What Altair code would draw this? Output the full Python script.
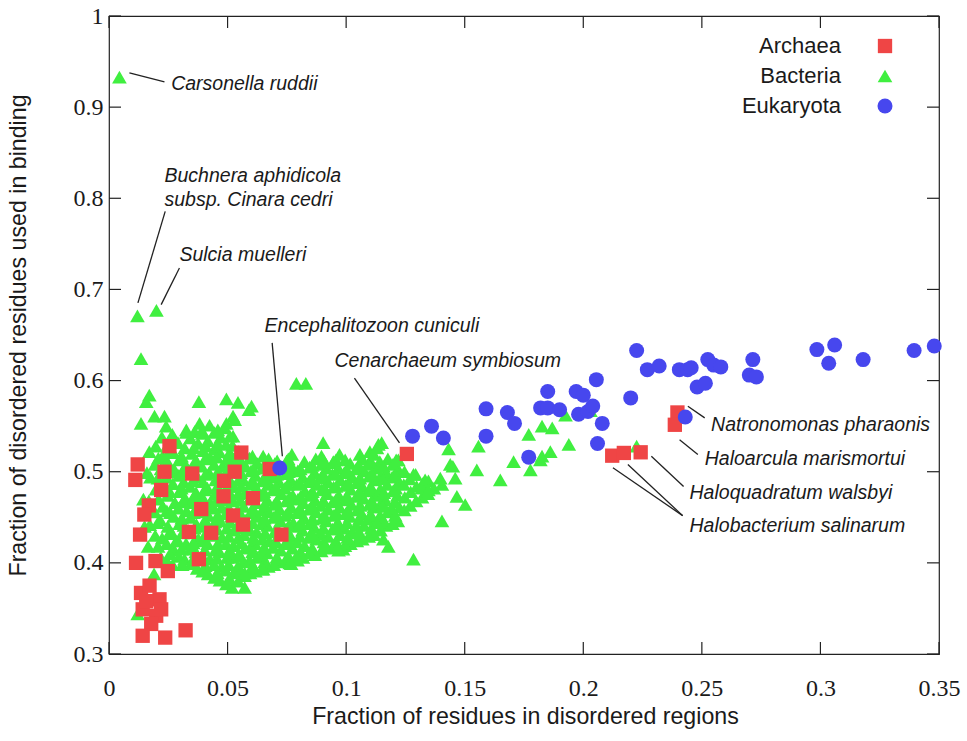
import altair as alt
import pandas as pd

# ---------------- axis ticks ----------------
x_ticks = [0, 0.05, 0.1, 0.15, 0.2, 0.25, 0.3, 0.35]
y_ticks = [0.3, 0.4, 0.5, 0.6, 0.7, 0.8, 0.9, 1.0]

# ---------------- Archaea (red squares) ----------------
archaea_x = [0.1256, 0.2397, 0.2386, 0.2242, 0.2122, 0.2171, 0.0678,
             0.0255, 0.0121, 0.0111, 0.0234, 0.0351, 0.0220, 0.0168, 0.0149,
             0.0131, 0.0337, 0.0431, 0.0389, 0.0485, 0.0483, 0.0530, 0.0558,
             0.0607, 0.0523, 0.0565, 0.0727,
             0.0114, 0.0196, 0.0248, 0.0379, 0.0135, 0.0171, 0.0213, 0.0142,
             0.0199, 0.0178, 0.0142, 0.0237, 0.0323, 0.0157, 0.0220]
archaea_y = [0.5195, 0.5650, 0.5515, 0.5213, 0.5176, 0.5206, 0.5030,
             0.5280, 0.5080, 0.4910, 0.5000, 0.4980, 0.4800, 0.4630, 0.4530,
             0.4310, 0.4340, 0.4330, 0.4590, 0.4900, 0.4730, 0.5000, 0.5210,
             0.4710, 0.4520, 0.4420, 0.4310,
             0.4000, 0.4020, 0.3910, 0.4040, 0.3670, 0.3750, 0.3600, 0.3490,
             0.3420, 0.3330, 0.3200, 0.3180, 0.3260, 0.3580, 0.3490]

# ---------------- Eukaryota (blue circles) ----------------
eukaryota_x = [0.0720, 0.1280, 0.1360, 0.1410, 0.1590, 0.1590, 0.1680, 0.1710,
               0.1770, 0.1820, 0.1850, 0.1850, 0.1900, 0.1970, 0.1980, 0.2000,
               0.2020, 0.2040, 0.2055, 0.2080, 0.2060, 0.2200, 0.2225, 0.2270,
               0.2320, 0.2405, 0.2440, 0.2455, 0.2480, 0.2515, 0.2525, 0.2550,
               0.2580, 0.2715, 0.2700, 0.2730, 0.2985, 0.3060, 0.3035, 0.3180,
               0.3395, 0.3480, 0.2430]
eukaryota_y = [0.5040, 0.5390, 0.5500, 0.5370, 0.5690, 0.5390, 0.5650, 0.5530,
               0.5160, 0.5700, 0.5700, 0.5880, 0.5680, 0.5880, 0.5630, 0.5840,
               0.5660, 0.5720, 0.6010, 0.5530, 0.5310, 0.5810, 0.6330, 0.6120,
               0.6160, 0.6120, 0.6120, 0.6140, 0.5930, 0.5970, 0.6230, 0.6170,
               0.6150, 0.6230, 0.6060, 0.6040, 0.6340, 0.6390, 0.6190, 0.6230,
               0.6330, 0.6380, 0.5600]

# ---------------- Bacteria (green triangles) ----------------
bacteria_outliers = [(0.0044, 0.933), (0.0120, 0.671), (0.0200, 0.677),
                     (0.0135, 0.624), (0.0790, 0.597), (0.0830, 0.597)]

bacteria_upper = [(0.0170, 0.584), (0.0157, 0.577), (0.0192, 0.561), (0.0234, 0.561),
                  (0.0135, 0.553), (0.0241, 0.550), (0.0379, 0.577), (0.0495, 0.580),
                  (0.0544, 0.576), (0.0523, 0.561), (0.0488, 0.548), (0.0326, 0.546),
                  (0.0361, 0.544), (0.0392, 0.545), (0.0523, 0.539), (0.0279, 0.532),
                  (0.0601, 0.572), (0.0459, 0.546), (0.0382, 0.553), (0.0495, 0.553),
                  (0.0590, 0.568), (0.0530, 0.557), (0.0510, 0.539)]

bacteria_right = [(0.0903, 0.532), (0.0896, 0.517), (0.0945, 0.510), (0.0650, 0.517),
                  (0.0770, 0.506), (0.1058, 0.519), (0.1100, 0.522), (0.1136, 0.530),
                  (0.1150, 0.532), (0.1130, 0.526), (0.1220, 0.513), (0.1284, 0.497),
                  (0.1333, 0.491), (0.1397, 0.493), (0.1439, 0.508), (0.1432, 0.525),
                  (0.1460, 0.493), (0.1319, 0.482), (0.1347, 0.480), (0.1404, 0.486),
                  (0.1467, 0.473), (0.1502, 0.464), (0.1551, 0.502), (0.1558, 0.528),
                  (0.1650, 0.491), (0.1706, 0.511), (0.1770, 0.541), (0.1777, 0.502),
                  (0.1819, 0.513), (0.1404, 0.446), (0.1157, 0.426), (0.1178, 0.418),
                  (0.1284, 0.404), (0.1925, 0.562), (0.1826, 0.550), (0.1869, 0.548),
                  (0.1939, 0.530), (0.1861, 0.522), (0.1826, 0.517), (0.2225, 0.528),
                  (0.2030, 0.567), (0.1211, 0.513), (0.1450, 0.506)]

bacteria_low = [(0.0762, 0.400), (0.0572, 0.373), (0.0572, 0.389), (0.0650, 0.393),
                (0.0987, 0.415), (0.1050, 0.433), (0.1130, 0.444), (0.0190, 0.388),
                (0.0121, 0.344), (0.0283, 0.424), (0.0160, 0.499), (0.0909, 0.418),
                (0.0790, 0.407), (0.0145, 0.470), (0.0150, 0.440), (0.0964, 0.417)]

bacteria_core_a = [
    (0.0165, 0.418), (0.0172, 0.442), (0.0168, 0.468), (0.0175, 0.494), (0.0170, 0.522),
    (0.0218, 0.406), (0.0224, 0.427), (0.0216, 0.447), (0.0227, 0.462), (0.0221, 0.483),
    (0.0219, 0.503), (0.0226, 0.517), (0.0223, 0.538),
    (0.0268, 0.398), (0.0275, 0.414), (0.0266, 0.432), (0.0273, 0.451), (0.0278, 0.466),
    (0.0269, 0.487), (0.0276, 0.502), (0.0271, 0.521), (0.0267, 0.541),
    (0.0318, 0.404), (0.0325, 0.421), (0.0316, 0.441), (0.0327, 0.457), (0.0321, 0.471),
    (0.0315, 0.489), (0.0324, 0.507), (0.0319, 0.526), (0.0326, 0.543),
    (0.0372, 0.394), (0.0366, 0.412), (0.0377, 0.426), (0.0369, 0.442), (0.0375, 0.461),
    (0.0367, 0.477), (0.0374, 0.494), (0.0368, 0.512), (0.0376, 0.531),
    (0.0418, 0.388), (0.0425, 0.404), (0.0416, 0.421), (0.0423, 0.437), (0.0419, 0.452),
    (0.0427, 0.466), (0.0415, 0.482), (0.0422, 0.499), (0.0426, 0.516), (0.0417, 0.534),
    (0.0424, 0.551),
    (0.0468, 0.381), (0.0474, 0.396), (0.0466, 0.412), (0.0477, 0.428), (0.0469, 0.446),
    (0.0475, 0.461), (0.0467, 0.476), (0.0473, 0.491), (0.0478, 0.506), (0.0465, 0.522),
    (0.0471, 0.538),
    (0.0519, 0.373), (0.0526, 0.389), (0.0517, 0.406), (0.0524, 0.419), (0.0528, 0.436),
    (0.0516, 0.451), (0.0522, 0.468), (0.0527, 0.484), (0.0518, 0.501), (0.0525, 0.514),
    (0.0521, 0.529),
    (0.0572, 0.386), (0.0566, 0.401), (0.0575, 0.416), (0.0569, 0.431), (0.0577, 0.447),
    (0.0568, 0.462), (0.0574, 0.477), (0.0567, 0.491), (0.0576, 0.506), (0.0571, 0.521),
    (0.0618, 0.391), (0.0625, 0.406), (0.0616, 0.421), (0.0623, 0.434), (0.0627, 0.451),
    (0.0619, 0.466), (0.0624, 0.481), (0.0617, 0.496), (0.0626, 0.509),
    (0.0672, 0.396), (0.0666, 0.411), (0.0675, 0.424), (0.0668, 0.441), (0.0674, 0.456),
    (0.0667, 0.469), (0.0677, 0.486), (0.0669, 0.499), (0.0673, 0.514),
    (0.0718, 0.401), (0.0725, 0.414), (0.0716, 0.431), (0.0723, 0.446), (0.0719, 0.459),
    (0.0726, 0.476), (0.0717, 0.489), (0.0724, 0.506),
    (0.0768, 0.399), (0.0774, 0.416), (0.0766, 0.429), (0.0777, 0.444), (0.0769, 0.461),
    (0.0775, 0.474), (0.0767, 0.491), (0.0773, 0.504), (0.0771, 0.519),
    (0.0818, 0.406), (0.0825, 0.419), (0.0816, 0.436), (0.0823, 0.449), (0.0819, 0.466),
    (0.0826, 0.479), (0.0817, 0.494), (0.0824, 0.511),
    (0.0868, 0.409), (0.0875, 0.426), (0.0866, 0.439), (0.0873, 0.456), (0.0869, 0.469),
    (0.0876, 0.486), (0.0867, 0.499), (0.0872, 0.514),
    (0.0918, 0.416), (0.0924, 0.429), (0.0916, 0.446), (0.0925, 0.459), (0.0919, 0.476),
    (0.0923, 0.489), (0.0917, 0.504),
    (0.0968, 0.414), (0.0975, 0.431), (0.0966, 0.444), (0.0973, 0.461), (0.0969, 0.474),
    (0.0976, 0.491), (0.0967, 0.504), (0.0972, 0.519),
    (0.1018, 0.421), (0.1025, 0.434), (0.1016, 0.451), (0.1023, 0.464), (0.1019, 0.481),
    (0.1026, 0.494), (0.1017, 0.509),
    (0.1068, 0.426), (0.1075, 0.441), (0.1066, 0.454), (0.1073, 0.471), (0.1069, 0.484),
    (0.1076, 0.501), (0.1067, 0.514),
    (0.1118, 0.431), (0.1125, 0.444), (0.1116, 0.461), (0.1123, 0.474), (0.1119, 0.491),
    (0.1126, 0.504), (0.1117, 0.519),
    (0.1168, 0.441), (0.1175, 0.456), (0.1166, 0.469), (0.1173, 0.486), (0.1169, 0.499),
    (0.1176, 0.514),
    (0.1218, 0.446), (0.1225, 0.461), (0.1216, 0.474), (0.1223, 0.489), (0.1219, 0.503),
]

bacteria_core_b = [
    (0.0195, 0.430), (0.0193, 0.456), (0.0198, 0.481), (0.0194, 0.508), (0.0197, 0.528),
    (0.0245, 0.402), (0.0243, 0.421), (0.0248, 0.440), (0.0244, 0.457), (0.0247, 0.474),
    (0.0242, 0.494), (0.0246, 0.511), (0.0249, 0.530),
    (0.0295, 0.407), (0.0292, 0.424), (0.0297, 0.443), (0.0293, 0.460), (0.0298, 0.478),
    (0.0294, 0.496), (0.0296, 0.513), (0.0291, 0.532),
    (0.0345, 0.399), (0.0343, 0.415), (0.0348, 0.433), (0.0344, 0.450), (0.0347, 0.466),
    (0.0342, 0.484), (0.0346, 0.502), (0.0349, 0.520), (0.0343, 0.537),
    (0.0395, 0.391), (0.0392, 0.408), (0.0397, 0.424), (0.0393, 0.440), (0.0398, 0.456),
    (0.0394, 0.472), (0.0396, 0.489), (0.0391, 0.506), (0.0397, 0.523), (0.0393, 0.542),
    (0.0445, 0.384), (0.0443, 0.398), (0.0448, 0.414), (0.0444, 0.430), (0.0447, 0.445),
    (0.0442, 0.460), (0.0446, 0.475), (0.0449, 0.491), (0.0443, 0.508), (0.0447, 0.525),
    (0.0444, 0.543),
    (0.0495, 0.377), (0.0493, 0.392), (0.0498, 0.406), (0.0494, 0.421), (0.0497, 0.438),
    (0.0492, 0.454), (0.0496, 0.469), (0.0499, 0.484), (0.0493, 0.499), (0.0497, 0.514),
    (0.0494, 0.530),
    (0.0545, 0.380), (0.0543, 0.396), (0.0548, 0.410), (0.0544, 0.427), (0.0547, 0.443),
    (0.0542, 0.458), (0.0546, 0.476), (0.0549, 0.492), (0.0543, 0.508), (0.0547, 0.522),
    (0.0595, 0.389), (0.0593, 0.403), (0.0598, 0.418), (0.0594, 0.436), (0.0597, 0.455),
    (0.0592, 0.470), (0.0596, 0.486), (0.0599, 0.501), (0.0593, 0.515),
    (0.0645, 0.393), (0.0643, 0.409), (0.0648, 0.426), (0.0644, 0.443), (0.0647, 0.458),
    (0.0642, 0.474), (0.0646, 0.490), (0.0649, 0.504),
    (0.0695, 0.398), (0.0693, 0.417), (0.0698, 0.434), (0.0694, 0.450), (0.0697, 0.464),
    (0.0692, 0.480), (0.0696, 0.494), (0.0699, 0.509),
    (0.0745, 0.403), (0.0743, 0.421), (0.0748, 0.437), (0.0744, 0.452), (0.0747, 0.468),
    (0.0742, 0.482), (0.0746, 0.498), (0.0749, 0.512),
    (0.0795, 0.403), (0.0793, 0.423), (0.0798, 0.440), (0.0794, 0.455), (0.0797, 0.470),
    (0.0792, 0.486), (0.0796, 0.501),
    (0.0845, 0.411), (0.0843, 0.428), (0.0848, 0.443), (0.0844, 0.459), (0.0847, 0.474),
    (0.0842, 0.489), (0.0846, 0.505),
    (0.0895, 0.413), (0.0893, 0.432), (0.0898, 0.449), (0.0894, 0.463), (0.0897, 0.480),
    (0.0892, 0.493), (0.0896, 0.508),
    (0.0945, 0.419), (0.0943, 0.437), (0.0948, 0.452), (0.0944, 0.467), (0.0947, 0.483),
    (0.0942, 0.497), (0.0946, 0.511),
    (0.0995, 0.419), (0.0993, 0.438), (0.0998, 0.454), (0.0994, 0.469), (0.0997, 0.485),
    (0.0992, 0.499), (0.0996, 0.513),
    (0.1045, 0.424), (0.1043, 0.441), (0.1048, 0.458), (0.1044, 0.473), (0.1047, 0.488),
    (0.1042, 0.503),
    (0.1095, 0.429), (0.1093, 0.448), (0.1098, 0.464), (0.1094, 0.479), (0.1097, 0.495),
    (0.1092, 0.508),
    (0.1145, 0.436), (0.1143, 0.452), (0.1148, 0.466), (0.1144, 0.481), (0.1147, 0.496),
    (0.1142, 0.511),
    (0.1195, 0.443), (0.1193, 0.459), (0.1198, 0.479), (0.1194, 0.494), (0.1197, 0.508),
]

bacteria_core_c = [
    (0.0207, 0.418), (0.0205, 0.444), (0.0209, 0.470), (0.0206, 0.493), (0.0208, 0.515),
    (0.0257, 0.410), (0.0255, 0.433), (0.0259, 0.455), (0.0256, 0.478), (0.0258, 0.500),
    (0.0254, 0.522),
    (0.0309, 0.398), (0.0306, 0.415), (0.0310, 0.433), (0.0307, 0.449), (0.0311, 0.467),
    (0.0305, 0.482), (0.0309, 0.500), (0.0306, 0.517),
    (0.0358, 0.405), (0.0355, 0.422), (0.0360, 0.438), (0.0356, 0.455), (0.0359, 0.473),
    (0.0354, 0.490), (0.0358, 0.509), (0.0357, 0.526),
    (0.0406, 0.397), (0.0404, 0.414), (0.0408, 0.432), (0.0405, 0.447), (0.0409, 0.463),
    (0.0403, 0.480), (0.0407, 0.497), (0.0405, 0.514), (0.0408, 0.528),
    (0.0457, 0.389), (0.0455, 0.405), (0.0459, 0.421), (0.0456, 0.437), (0.0458, 0.452),
    (0.0454, 0.468), (0.0457, 0.484), (0.0459, 0.500), (0.0455, 0.516), (0.0458, 0.531),
    (0.0508, 0.383), (0.0505, 0.398), (0.0509, 0.414), (0.0506, 0.429), (0.0510, 0.445),
    (0.0504, 0.461), (0.0508, 0.477), (0.0507, 0.492), (0.0505, 0.507), (0.0509, 0.521),
    (0.0556, 0.391), (0.0554, 0.407), (0.0558, 0.422), (0.0555, 0.438), (0.0559, 0.452),
    (0.0553, 0.469), (0.0557, 0.484), (0.0556, 0.499), (0.0554, 0.513),
    (0.0607, 0.397), (0.0605, 0.412), (0.0609, 0.428), (0.0606, 0.444), (0.0608, 0.459),
    (0.0604, 0.474), (0.0607, 0.489), (0.0609, 0.503), (0.0605, 0.517),
    (0.0656, 0.401), (0.0654, 0.417), (0.0658, 0.433), (0.0655, 0.449), (0.0659, 0.463),
    (0.0653, 0.478), (0.0657, 0.493), (0.0656, 0.508),
    (0.0707, 0.406), (0.0705, 0.423), (0.0709, 0.438), (0.0706, 0.453), (0.0708, 0.468),
    (0.0704, 0.483), (0.0707, 0.497), (0.0709, 0.512),
    (0.0756, 0.408), (0.0754, 0.425), (0.0758, 0.441), (0.0755, 0.456), (0.0759, 0.471),
    (0.0753, 0.486), (0.0757, 0.500), (0.0756, 0.514),
    (0.0807, 0.412), (0.0805, 0.429), (0.0809, 0.444), (0.0806, 0.459), (0.0808, 0.473),
    (0.0804, 0.488), (0.0807, 0.503),
    (0.0857, 0.416), (0.0855, 0.433), (0.0859, 0.448), (0.0856, 0.463), (0.0858, 0.478),
    (0.0854, 0.493), (0.0857, 0.507),
    (0.0906, 0.423), (0.0904, 0.438), (0.0908, 0.452), (0.0905, 0.468), (0.0909, 0.482),
    (0.0903, 0.497), (0.0907, 0.512),
    (0.0957, 0.424), (0.0955, 0.440), (0.0959, 0.455), (0.0956, 0.469), (0.0958, 0.484),
    (0.0954, 0.498), (0.0957, 0.513),
    (0.1006, 0.428), (0.1004, 0.444), (0.1008, 0.458), (0.1005, 0.473), (0.1009, 0.488),
    (0.1003, 0.502),
    (0.1057, 0.433), (0.1055, 0.448), (0.1059, 0.463), (0.1056, 0.478), (0.1058, 0.493),
    (0.1054, 0.507),
    (0.1106, 0.438), (0.1104, 0.453), (0.1108, 0.468), (0.1105, 0.483), (0.1109, 0.498),
    (0.1103, 0.512),
    (0.1157, 0.447), (0.1155, 0.462), (0.1159, 0.477), (0.1156, 0.492), (0.1158, 0.506),
    (0.1207, 0.452), (0.1205, 0.467), (0.1209, 0.482), (0.1206, 0.497),
    (0.1245, 0.458), (0.1247, 0.472), (0.1243, 0.486), (0.1246, 0.500),
    (0.1270, 0.463), (0.1272, 0.478), (0.1268, 0.492),
    (0.1295, 0.468), (0.1297, 0.484), (0.1293, 0.497),
    (0.1320, 0.472), (0.1322, 0.487),
    (0.1345, 0.476), (0.1347, 0.490),
    (0.1370, 0.482),
]

# ---------------- legend / style lists ----------------
groups = ["Archaea", "Bacteria", "Eukaryota"]
group_colors = ["#ef4545", "#40ef40", "#4747ee"]
group_shapes = ["square", "triangle-up", "circle"]
group_sizes = [205, 225, 165]

# ---------------- annotations ----------------
ann_label = ["Carsonella ruddii", "Buchnera aphidicola", "subsp. Cinara cedri",
             "Sulcia muelleri", "Encephalitozoon cuniculi", "Cenarchaeum symbiosum",
             "Natronomonas pharaonis", "Haloarcula marismortui",
             "Haloquadratum walsbyi", "Halobacterium salinarum"]
ann_x = [0.0262, 0.0234, 0.0234, 0.0297, 0.0656, 0.0951, 0.2539, 0.2512, 0.2448, 0.2448]
ann_y = [0.9257, 0.8240, 0.7985, 0.7382, 0.6603, 0.6219, 0.5518, 0.5141, 0.4761, 0.4400]

lead_x1 = [0.0086, 0.0122, 0.0220, 0.0731, 0.1225, 0.2441, 0.2406, 0.2287, 0.2125, 0.2188]
lead_y1 = [0.9377, 0.6852, 0.6833, 0.5170, 0.5317, 0.5718, 0.5350, 0.5170, 0.5043, 0.5079]
lead_x2 = [0.0234, 0.0237, 0.0297, 0.0688, 0.1035, 0.2512, 0.2483, 0.2423, 0.2419, 0.2419]
lead_y2 = [0.9278, 0.7857, 0.7236, 0.6413, 0.6027, 0.5591, 0.5189, 0.4838, 0.4518, 0.4518]

# ---------------- build tables ----------------
bact = (bacteria_core_a + bacteria_core_b + bacteria_core_c + bacteria_low
        + bacteria_right + bacteria_upper + bacteria_outliers)
df_b = pd.DataFrame({"x": [p[0] for p in bact], "y": [p[1] for p in bact], "group": "Bacteria"})
df_a = pd.DataFrame({"x": archaea_x, "y": archaea_y, "group": "Archaea"})
df_e = pd.DataFrame({"x": eukaryota_x, "y": eukaryota_y, "group": "Eukaryota"})
df = pd.concat([df_b, df_a, df_e], ignore_index=True)
df["order"] = range(len(df))

ann_df = pd.DataFrame({"label": ann_label, "x": ann_x, "y": ann_y})
lead_df = pd.DataFrame({"x": lead_x1, "y": lead_y1, "x2": lead_x2, "y2": lead_y2})
xt_df = pd.DataFrame({"v": x_ticks})
yt_df = pd.DataFrame({"v": y_ticks})

W, H = 830, 638
TICK = 12
INK = "#1a1a1a"
SANS = "Liberation Sans"
SERIF = "Liberation Serif"

xs = alt.Scale(domain=[0, 0.35], nice=False, zero=False)
ys = alt.Scale(domain=[0.3, 1.0], nice=False, zero=False)

x_axis = alt.Axis(values=x_ticks, format=".2~f", ticks=False, domain=False, grid=False,
                  labelFont=SERIF, labelFontSize=24, labelColor=INK, labelPadding=22,
                  labelFlush=False, labelOverlap=False,
                  title="Fraction of residues in disordered regions",
                  titleFont=SANS, titleFontSize=23.2, titleFontWeight="normal", titleColor=INK,
                  titleX=W / 2 + 1, titleY=62, titleBaseline="middle", titleAlign="center")
y_axis = alt.Axis(values=y_ticks, format=".1~f", ticks=False, domain=False, grid=False,
                  labelFont=SERIF, labelFontSize=24, labelColor=INK, labelPadding=6,
                  labelFlush=False, labelOverlap=False,
                  title="Fraction of disordered residues used in binding",
                  titleFont=SANS, titleFontSize=23.2, titleFontWeight="normal", titleColor=INK,
                  titleX=-91, titleY=319, titleAngle=270, titleBaseline="middle", titleAlign="center")

leg = alt.Legend(title=None, orient="none", legendX=765, legendY=19, direction="vertical",
                 labelFont=SANS, labelFontSize=22, labelColor=INK, labelAlign="right",
                 labelOffset={"expr": "-55"}, symbolSize=205, symbolStrokeWidth=0, rowPadding=8,
                 padding=0, symbolOpacity=1)

points = alt.Chart(df).mark_point(filled=True, opacity=1, strokeWidth=0).encode(
    x=alt.X("x:Q", scale=xs, axis=x_axis),
    y=alt.Y("y:Q", scale=ys, axis=y_axis),
    color=alt.Color("group:N", scale=alt.Scale(domain=groups, range=group_colors), legend=leg),
    shape=alt.Shape("group:N", scale=alt.Scale(domain=groups, range=group_shapes), legend=leg),
    size=alt.Size("group:N", scale=alt.Scale(domain=groups, range=group_sizes), legend=None),
    order=alt.Order("order:Q"),
)

leaders = alt.Chart(lead_df).mark_rule(color="#222222", strokeWidth=1.3).encode(
    x=alt.X("x:Q", scale=xs, axis=x_axis), y=alt.Y("y:Q", scale=ys, axis=y_axis),
    x2="x2:Q", y2="y2:Q")

labels = alt.Chart(ann_df).mark_text(align="left", baseline="middle", font=SANS, fontSize=19.5,
                                     fontStyle="italic", color=INK).encode(
    x=alt.X("x:Q", scale=xs, axis=x_axis), y=alt.Y("y:Q", scale=ys, axis=y_axis), text="label:N")

tick_style = dict(color="#222222", strokeWidth=1.2)
bottom_ticks = alt.Chart(xt_df).mark_rule(**tick_style).encode(
    x=alt.X("v:Q", scale=xs, axis=x_axis), y=alt.value(H), y2=alt.value(H - TICK))
top_ticks = alt.Chart(xt_df).mark_rule(**tick_style).encode(
    x=alt.X("v:Q", scale=xs, axis=x_axis), y=alt.value(0), y2=alt.value(TICK))
left_ticks = alt.Chart(yt_df).mark_rule(**tick_style).encode(
    y=alt.Y("v:Q", scale=ys, axis=y_axis), x=alt.value(0), x2=alt.value(TICK))
right_ticks = alt.Chart(yt_df).mark_rule(**tick_style).encode(
    y=alt.Y("v:Q", scale=ys, axis=y_axis), x=alt.value(W - TICK), x2=alt.value(W))

chart = alt.layer(points, leaders, labels, bottom_ticks, top_ticks, left_ticks, right_ticks).properties(
    width=W, height=H,
    padding={"left": 109, "top": 16, "right": 28, "bottom": 87},
    autosize=alt.AutoSizeParams(type="none"),
    background="white",
).configure_view(stroke="#222222", strokeWidth=1.2)

chart.save("out.html", embed_options={"renderer": "svg", "actions": False})
